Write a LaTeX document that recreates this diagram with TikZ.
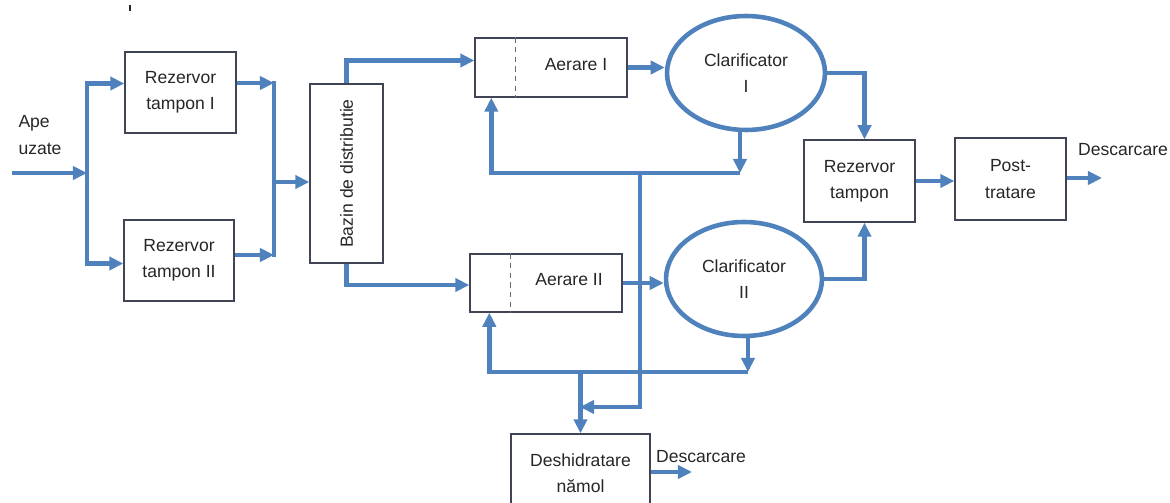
\documentclass[tikz,border=0pt]{standalone}
\usepackage{fontspec}
\setmainfont{Liberation Sans}
\usetikzlibrary{arrows.meta,shapes.geometric,calc}
\definecolor{flowblue}{RGB}{79,129,189}
\definecolor{boxline}{RGB}{64,68,84}
\definecolor{txtgray}{RGB}{38,38,38}
\begin{document}
\begin{tikzpicture}[x=0.02cm,y=-0.02cm,
    flow/.style={draw=flowblue,line width=2.8pt},
    arr/.style={flow,-{Triangle[length=8pt,width=7.5pt]}},
    box/.style={draw=boxline,line width=0.8pt,align=center,text=txtgray,inner sep=0pt},
    tank/.style={ellipse,draw=flowblue,line width=2.6pt,align=center,text=txtgray,inner sep=0pt},
    lbl/.style={text=txtgray,align=left,inner sep=0pt},
    font=\fontsize{10}{15}\selectfont]
     \clip (0,0) rectangle (1170,503);
     \draw[txtgray,line width=0.8pt] (130,5) -- (130,11);
     \node[lbl] (ape) at (40,135) {Ape\\uzate};
     \node[box,minimum width=2.22cm,minimum height=1.62cm] (rez1) at (180.5,92.5) {Rezervor\\tampon I};
     \node[box,minimum width=2.2cm,minimum height=1.62cm] (rez2) at (179,260.5) {Rezervor\\tampon II};
     \node[box,minimum width=1.46cm,minimum height=3.58cm] (bazin) at (346.5,173.5) {\rotatebox{90}{Bazin de distributie}};
     \node[box,minimum width=3.04cm,minimum height=1.18cm] (aer1) at (551,67.5) {};
     \node[box,minimum width=3.04cm,minimum height=1.16cm] (aer2) at (546,283) {};
     \draw[boxline!80,line width=0.6pt,dash pattern=on 3pt off 2.5pt] ($(aer1.north west)+(41,0)$) -- ($(aer1.south west)+(41,0)$);
     \draw[boxline!80,line width=0.6pt,dash pattern=on 3pt off 2.5pt] ($(aer2.north west)+(41,0)$) -- ($(aer2.south west)+(41,0)$);
     \node[lbl] (aer1txt) at (576,65) {Aerare I};
     \node[lbl] (aer2txt) at (569,280) {Aerare II};
     \node[tank,minimum width=3.16cm,minimum height=2.28cm] (cla1) at (746,73) {Clarificator\\I};
     \node[tank,minimum width=3.12cm,minimum height=2.28cm] (cla2) at (744,279) {Clarificator\\II};
     \node[box,minimum width=2.22cm,minimum height=1.64cm] (rezt) at (859.5,181) {Rezervor\\tampon};
     \node[box,minimum width=2.22cm,minimum height=1.64cm] (post) at (1010.5,179) {Post-\\tratare};
     \node[box,minimum width=2.78cm,minimum height=1.58cm] (des) at (580.5,473.5) {Deshidratare\\nămol};
     \node[lbl] (desc1) at (1123,150) {Descarcare};
     \node[lbl] (desc2) at (701,457) {Descarcare};
     \coordinate (start) at (12,173);
     \coordinate (split) at (87,173);
     \coordinate (j1) at (274,83);
     \coordinate (j2) at (274,255);
     \coordinate (join) at (274,182);
     \coordinate (r1) at (740,173);
     \coordinate (r2) at (748,372);
     \coordinate (s1) at (640,173);
     \coordinate (s2) at (580,407);
     \coordinate (out1) at (1102,178);
     \coordinate (out2) at (692,472);
     \draw[arr] (start) -- (split);
     \draw[arr] (split) |- ($(rez1.west)+(0,-9)$);
     \draw[arr] (split) |- ($(rez2.west)+(0,3)$);
     \draw[arr] (rez1.east |- j1) -- (j1);
     \draw[arr] (rez2.east |- j2) -- (j2);
     \draw[flow,line cap=rect] (j1) -- (j2);
     \draw[arr] (join) -- (bazin.west |- join);
     \draw[arr] (bazin.north) |- ($(aer1.west)+(0,-7)$);
     \draw[arr] (bazin.south) |- ($(aer2.west)+(0,2)$);
     \draw[arr] (s1) |- (s2);
     \draw[arr] (aer1.east) -- (aer1.east -| cla1.west);
     \draw[arr] (aer2.east) -- (aer2.east -| cla2.west);
     \draw[arr] (cla1.south -| r1) -- (r1);
     \draw[arr] (r1) -| ($(aer1.south west)+(17,0)$);
     \draw[arr] (cla2.south -| r2) -- (r2);
     \draw[arr] (r2) -| ($(aer2.south west)+(20,0)$);
     \draw[arr] (des.north |- r2) -- (des.north);
     \draw[arr] (cla1.east) -| ($(rezt.north)+(5,0)$);
     \draw[arr] (cla2.east) -| ($(rezt.south)+(5,0)$);
     \draw[arr] (rezt.east) -- (post.west |- rezt.east);
     \draw[arr] (post.east |- out1) -- (out1);
     \draw[arr] (des.east |- out2) -- (out2);
    \end{tikzpicture}
\end{document}
